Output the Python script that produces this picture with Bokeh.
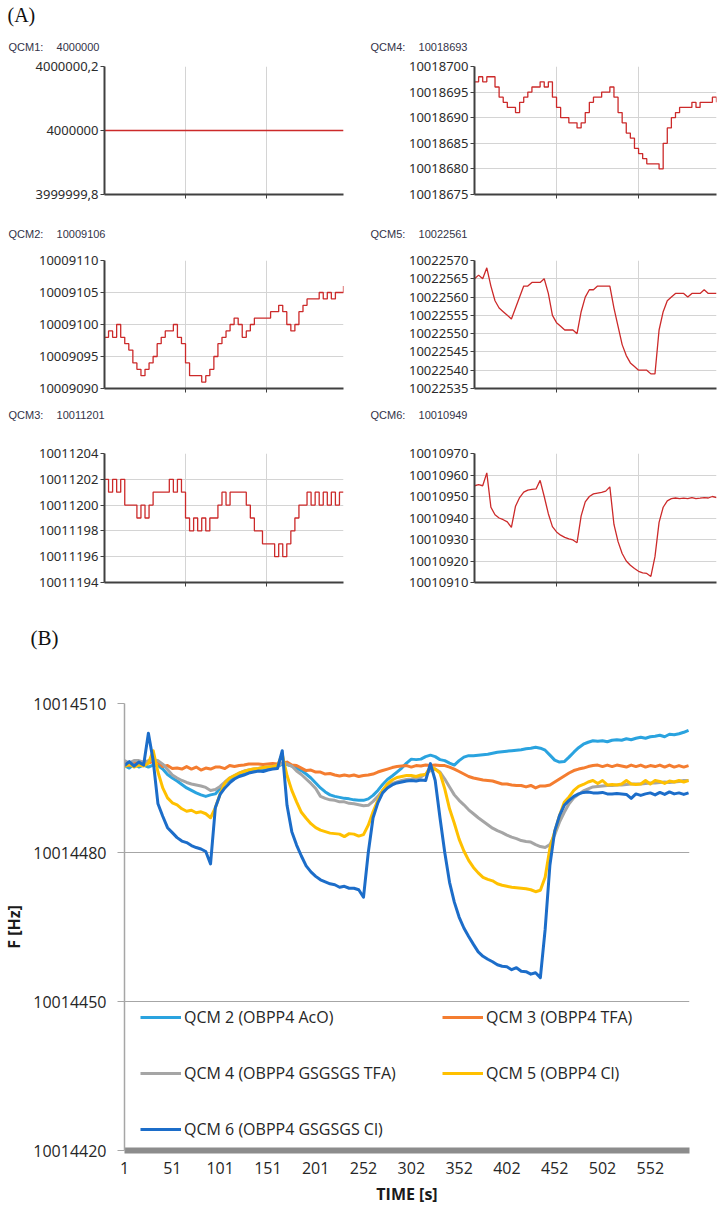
from bokeh.plotting import figure
from bokeh.models import Range1d, FixedTicker, BasicTickFormatter, Legend, LegendItem, Title
from bokeh.layouts import column, row
from bokeh.embed import file_html
from bokeh.resources import INLINE

# ---------------- Panel A data (time index 0..590, every 10) ----------------
MINI_T = list(range(0, 600, 10))

QCM1_T = [0, 590]
QCM1_VALS = [4000000, 4000000]

QCM2_BASE = 10009000
QCM2_VALS = [98, 99, 98, 100, 98, 97, 96, 94, 93, 92,
             93, 94, 95, 97, 98, 99, 99, 100, 98, 97,
             94, 92, 92, 92, 91, 92, 93, 95, 97, 98,
             99, 100, 101, 100, 98, 99, 100, 101, 101, 101,
             101, 102, 102, 103, 102, 100, 99, 100, 102, 103,
             104, 104, 104, 105, 104, 105, 104, 105, 105, 106]

QCM3_BASE = 10011000
QCM3_VALS = [202, 201, 202, 201, 202, 200, 200, 200, 199, 200,
             199, 200, 201, 201, 201, 201, 202, 201, 202, 201,
             199, 198, 199, 198, 199, 198, 199, 199, 200, 201,
             200, 201, 201, 201, 201, 200, 199, 198, 198, 197,
             197, 197, 196, 197, 196, 197, 198, 199, 200, 200,
             201, 200, 201, 200, 201, 200, 201, 200, 201, 201]

QCM4_BASE = 10018600
QCM4_VALS = [97, 98, 97, 98, 98, 96, 94, 93, 92, 92,
             91, 93, 94, 95, 96, 96, 97, 96, 97, 94,
             92, 90, 90, 89, 89, 88, 89, 91, 93, 94,
             94, 95, 95, 96, 94, 91, 89, 87, 86, 84,
             83, 82, 81, 81, 81, 80, 85, 88, 90, 91,
             92, 92, 92, 93, 92, 93, 93, 93, 94, 93]

QCM5_BASE = 10022500
QCM5_VALS = [65, 66, 65, 68, 63, 59, 57, 56, 55, 54,
             57, 60, 63, 63, 64, 64, 64, 65, 61, 55,
             53, 52, 51, 51, 51, 50, 56, 60, 62, 62,
             63, 63, 63, 63, 57, 52, 47, 44, 42, 41,
             40, 40, 40, 39, 39, 51, 56, 59, 60, 61,
             61, 61, 60, 61, 61, 61, 62, 61, 61, 61]

QCM6_BASE = 10010900
QCM6_VALS = [55, 55.5, 55, 61, 45, 41.5, 40, 39.2, 38.2, 35.6,
             45.5, 49.5, 52, 53, 53.3, 53.5, 57.5, 50, 42, 36,
             33.5, 32, 31, 30.3, 29.8, 28.5, 41, 47.5, 50, 51.2,
             51.6, 51.9, 52.5, 54.5, 37, 29, 23.5, 20, 18, 16.5,
             15.2, 14.5, 14.2, 12.8, 22, 38, 45, 48, 49, 49.3,
             49, 49.2, 49, 49.5, 49, 49.2, 49.5, 49.3, 50, 49.5]

# ---------------- Panel B data (time index 0..590, every 5) ----------------
B_T = list(range(0, 595, 5))
B_BASE = 10014480
B_NAMES = ["QCM 2 (OBPP4 AcO)", "QCM 3 (OBPP4 TFA)", "QCM 4 (OBPP4 GSGSGS TFA)",
           "QCM 5 (OBPP4 Cl)", "QCM 6 (OBPP4 GSGSGS Cl)"]
B_COLORS = ["#2AA3DF", "#F47D30", "#A5A5A5", "#FFC000", "#1C6DC9"]

B_QCM2 = [17.5, 17.0, 17.8, 17.2, 17.6, 17.2, 17.6, 17.5, 16.8, 15.7,
          15.0, 14.4, 13.7, 13.0, 12.5, 12.0, 11.6, 11.3, 11.6, 11.8,
          12.9, 14.0, 14.7, 15.1, 15.5, 15.9, 16.2, 16.4, 16.6, 16.8,
          17.0, 17.1, 17.3, 17.8, 17.7, 17.4, 17.0, 16.5, 15.8, 15.0,
          14.0, 13.0, 12.2, 11.6, 11.3, 11.1, 10.9, 10.8, 10.6, 10.5,
          10.5, 10.8, 11.5, 12.5, 13.7, 14.7, 15.4, 16.2, 17.0, 18.0,
          18.8, 18.7, 18.8, 19.3, 19.6, 19.3, 18.7, 18.5, 18.0, 17.6,
          18.5, 19.2, 19.5, 19.5, 19.6, 19.7, 19.8, 20.0, 20.2, 20.3,
          20.4, 20.5, 20.6, 20.7, 20.9, 21.0, 21.2, 21.0, 20.6, 19.6,
          18.6, 18.2, 18.3, 19.2, 20.2, 21.1, 21.8, 22.2, 22.5, 22.4,
          22.5, 22.3, 22.6, 22.7, 22.6, 22.9, 22.7, 23.0, 23.2, 23.0,
          23.3, 23.4, 23.6, 23.3, 23.8, 23.7, 23.9, 24.2, 24.6]

B_QCM3 = [18.0, 17.5, 18.3, 17.6, 18.2, 18.0, 18.3, 18.2, 17.3, 17.5,
          16.9, 17.0, 16.8, 17.3, 16.8, 17.2, 16.6, 17.0, 16.8, 17.2,
          17.2, 16.9, 17.5, 17.3, 17.5, 17.6, 17.8, 17.8, 17.8, 17.7,
          17.8, 17.9, 17.8, 18.0, 18.2, 17.6, 17.5, 17.0, 16.5, 16.6,
          16.2, 16.2, 15.8, 15.9, 15.6, 15.4, 15.6, 15.4, 15.6, 15.3,
          15.5, 15.6, 15.8, 16.2, 16.5, 16.8, 17.1, 17.3, 17.4, 17.5,
          17.2, 17.5, 17.4, 17.6, 17.5, 17.6, 17.5, 17.5, 17.2, 16.8,
          16.3, 15.8, 15.3, 15.0, 14.8, 14.6, 14.5, 14.4, 14.1, 13.8,
          13.8, 13.6, 13.5, 13.5, 13.2, 13.5, 13.0, 13.4, 13.4, 13.6,
          14.2, 14.8, 15.4, 16.0, 16.5, 16.8, 17.0, 17.3, 17.5, 17.6,
          17.3, 17.6, 17.3, 17.6, 17.4, 17.2, 17.6, 17.3, 17.6, 17.2,
          17.5, 17.3, 17.6, 17.2, 17.6, 17.2, 17.5, 17.2, 17.5]

B_QCM4 = [18.5, 18.0, 18.5, 18.5, 18.2, 18.5, 18.6, 18.5, 17.8, 16.7,
          15.6, 15.0, 14.5, 14.1, 13.8, 13.6, 13.4, 13.1, 12.5, 12.7,
          13.3, 14.2, 15.0, 15.5, 16.0, 16.4, 16.6, 16.8, 16.9, 17.1,
          17.2, 17.3, 17.5, 18.0, 17.8, 17.4, 16.4, 15.7, 14.8, 13.9,
          12.9, 11.3, 10.9, 10.6, 10.5, 10.2, 10.2, 9.9, 9.8, 9.6,
          9.4, 9.5, 10.3, 11.3, 12.5, 13.4, 13.9, 14.2, 14.5, 14.7,
          14.8, 15.0, 15.2, 15.8, 16.5, 16.8, 16.2, 14.8, 13.2, 11.6,
          10.5, 9.6, 8.6, 7.8, 7.0, 6.3, 5.6, 4.9, 4.4, 4.0,
          3.5, 3.1, 2.8, 2.4, 2.2, 2.1, 1.6, 1.2, 1.0, 1.6,
          3.6, 6.1, 8.1, 9.8, 11.0, 11.7, 12.4, 12.8, 13.2, 13.3,
          13.4, 13.5, 13.5, 13.6, 13.6, 13.7, 13.8, 13.8, 13.8, 13.9,
          14.0, 14.0, 14.1, 14.2, 14.1, 14.2, 14.3, 14.5, 14.5]

B_QCM5 = [17.3, 17.8, 17.2, 17.6, 17.4, 18.0, 20.5, 16.2, 13.0, 11.0,
          10.0, 9.6, 8.8, 8.3, 8.5, 8.0, 8.2, 7.8, 7.0, 9.0,
          11.8, 14.0, 15.0, 15.5, 16.0, 16.3, 16.6, 16.8, 16.9, 17.1,
          17.2, 17.3, 17.5, 19.8, 15.5, 12.5, 10.2, 8.1, 6.9, 5.8,
          5.0, 4.5, 4.2, 3.9, 3.8, 3.7, 3.2, 3.8, 3.7, 3.3,
          3.6, 5.5, 8.2, 10.5, 12.5, 13.8, 14.6, 15.1, 15.3, 15.5,
          15.5, 15.3, 15.6, 15.7, 17.3, 16.8, 16.0, 12.8, 8.8, 5.9,
          2.7, 0.3, -1.6, -3.0, -4.1, -5.0, -5.4, -5.7, -6.3, -6.6,
          -6.8, -7.0, -7.1, -7.2, -7.3, -7.5, -7.9, -7.6, -5.0, 0.9,
          4.2, 7.4, 10.1, 11.2, 12.5, 13.3, 13.7, 14.2, 14.5, 13.9,
          14.5, 13.6, 13.7, 13.6, 13.8, 14.5, 13.8, 13.7, 13.8, 14.5,
          13.8, 14.5, 14.3, 13.9, 14.4, 14.2, 14.5, 14.2, 14.5]

B_QCM6 = [17.5, 18.3, 17.4, 18.2, 17.6, 24.0, 18.5, 9.8, 7.3, 5.0,
          4.0, 3.0, 2.3, 2.0, 1.4, 1.0, 0.7, 0.2, -2.3, 9.0,
          11.7, 13.0, 14.0, 14.8, 15.3, 15.6, 16.0, 16.2, 16.4, 16.3,
          16.6, 16.8, 16.9, 20.5, 9.5, 4.2, 1.5, -0.7, -2.7, -3.9,
          -4.8, -5.5, -5.9, -6.3, -6.5, -7.0, -6.8, -7.2, -7.2, -7.5,
          -9.0, 0.0, 7.0, 10.0, 12.0, 13.0, 13.6, 14.0, 14.2, 14.4,
          14.5, 14.4, 14.6, 14.5, 17.9, 14.5, 7.0, 0.0, -6.0, -10.0,
          -13.0, -15.2, -16.9, -18.5, -20.0, -20.9, -21.5, -22.0, -22.6, -22.9,
          -23.0, -23.6, -23.2, -23.9, -24.0, -24.5, -24.2, -25.2, -15.5, -2.5,
          4.3, 7.4, 9.5, 10.5, 11.3, 11.8, 12.1, 12.2, 12.0, 12.0,
          12.1, 11.8, 11.8, 11.9, 11.8, 11.7, 10.9, 11.8, 11.5, 11.8,
          12.0, 11.6, 12.1, 11.7, 12.2, 11.8, 12.0, 11.7, 12.0]

B_SERIES = [B_QCM2, B_QCM3, B_QCM4, B_QCM5, B_QCM6]
B_Y_TICKS = [10014420, 10014450, 10014480, 10014510]
B_X_TICK_POS = [0, 50, 100, 150, 200, 250, 300, 350, 400, 450, 500, 550]
B_X_TICK_LABELS = ["1", "51", "101", "151", "201", "252", "302", "352", "402", "452", "502", "552"]

RED = "#CC2A2A"
AX_DARK = "#404040"
TICK_FONT = "Noto Sans"
GAP = "\u2002\u2002\u2009"


def qcm_title(name, val, offset, standoff):
    return Title(text=name + GAP + val, align="left", offset=offset, vertical_align="middle",
                 standoff=standoff, text_font="Liberation Sans", text_font_size="11px",
                 text_font_style="normal", text_color="#333348")


def mini(t, y, ticks, labels, use_step, left_col, top_b, frame_h, bottom_b):
    if left_col:
        W, bl, br = 361, 104, 18
    else:
        W, bl, br = 362, 113, 7
    H = top_b + frame_h + bottom_b
    p = figure(width=W, height=H, min_border_left=bl, min_border_right=br,
               min_border_top=top_b, min_border_bottom=bottom_b,
               x_range=Range1d(0, 590), y_range=Range1d(ticks[0], ticks[-1]),
               output_backend="svg", toolbar_location=None, tools="")
    p.outline_line_color = None
    if use_step:
        p.step(t, y, mode="after", line_color=RED, line_width=1.3)
    else:
        p.line(t, y, line_color=RED, line_width=1.3)
    p.yaxis.ticker = FixedTicker(ticks=ticks)
    p.yaxis.formatter = BasicTickFormatter(use_scientific=False)
    if labels is not None:
        p.yaxis.major_label_overrides = dict(zip(ticks, labels))
    p.xaxis.ticker = FixedTicker(ticks=[200, 400])
    p.xaxis.major_label_text_font_size = "1px"
    p.xaxis.major_label_text_color = None
    p.xaxis.major_label_standoff = 0
    for ax in (p.xaxis[0], p.yaxis[0]):
        ax.axis_line_color = AX_DARK
        ax.axis_line_width = 2
        ax.major_tick_line_color = AX_DARK
        ax.major_tick_out = 4
        ax.major_tick_in = 0
        ax.minor_tick_out = 0
        ax.minor_tick_in = 0
        ax.minor_tick_line_color = None
    p.yaxis.major_label_standoff = 2
    p.yaxis.major_label_text_font = TICK_FONT
    p.yaxis.major_label_text_font_size = "13px"
    p.yaxis.major_label_text_color = "#2b2b2b"
    p.xgrid.grid_line_color = "#D4D4D4"
    p.ygrid.grid_line_color = "#D4D4D4"
    p.ygrid.ticker = FixedTicker(ticks=ticks)
    return p, bl


q2 = [QCM2_BASE + v for v in QCM2_VALS]
q3 = [QCM3_BASE + v for v in QCM3_VALS]
q4 = [QCM4_BASE + v for v in QCM4_VALS]
q5 = [QCM5_BASE + v for v in QCM5_VALS]
q6 = [QCM6_BASE + v for v in QCM6_VALS]

LEFT_X, RIGHT_X = 8, 370 - 361

# Row 1: page y 0..204, frame 66..194
f1, bl1 = mini(QCM1_T, QCM1_VALS, [3999999.8, 4000000.0, 4000000.2],
               ["3999999,8", "4000000", "4000000,2"], False, True, 66, 128, 10)
f4, bl4 = mini(MINI_T, q4, [10018675, 10018680, 10018685, 10018690, 10018695, 10018700],
               None, True, False, 66, 128, 10)
f1.add_layout(qcm_title("QCM1:", "4000000", LEFT_X - bl1, 25.5), "above")
f1.add_layout(Title(text="(A)", align="left", offset=7 - bl1, vertical_align="middle", standoff=0,
                    text_font="Liberation Serif", text_font_size="20px", text_font_style="normal",
                    text_color="#111111"), "above")
f4.add_layout(qcm_title("QCM4:", "10018693", RIGHT_X - bl4, 25.5), "above")

# Row 2: page y 204..441, frame 260..388
f2, bl2 = mini(MINI_T, q2, [10009090, 10009095, 10009100, 10009105, 10009110],
               None, True, True, 56, 128, 53)
f5, bl5 = mini(MINI_T, q5,
               [10022535, 10022540, 10022545, 10022550, 10022555, 10022560, 10022565, 10022570],
               None, False, False, 56, 128, 53)
f2.add_layout(qcm_title("QCM2:", "10009106", LEFT_X - bl2, 40), "above")
f5.add_layout(qcm_title("QCM5:", "10022561", RIGHT_X - bl5, 40), "above")
# titles of the third row sit below the second-row charts
f2.add_layout(qcm_title("QCM3:", "10011201", LEFT_X - bl2, 30.6), "below")
f5.add_layout(qcm_title("QCM6:", "10010949", RIGHT_X - bl5, 30.6), "below")

# Row 3: page y 441..692, frame 453..582
f3, bl3 = mini(MINI_T, q3, [10011194, 10011196, 10011198, 10011200, 10011202, 10011204],
               None, True, True, 12, 129, 110)
f6, bl6 = mini(MINI_T, q6,
               [10010910, 10010920, 10010930, 10010940, 10010950, 10010960, 10010970],
               None, False, False, 12, 129, 110)
f3.add_layout(Title(text="(B)", align="left", offset=30 - bl3, vertical_align="middle", standoff=77,
                    text_font="Liberation Serif", text_font_size="21px", text_font_style="normal",
                    text_color="#111111"), "below")

# ---------------- Panel B: page y 692..1215, frame 703..1150 ----------------
BL, BR, BT, BB = 123, 34, 11, 65
pB = figure(width=723, height=523, min_border_left=BL, min_border_right=BR,
            min_border_top=BT, min_border_bottom=BB,
            x_range=Range1d(0, 591), y_range=Range1d(10014420, 10014510),
            output_backend="svg", toolbar_location=None, tools="")
pB.outline_line_color = None
items = []
for name, color, vals in zip(B_NAMES, B_COLORS, B_SERIES):
    r = pB.line(B_T, [B_BASE + v for v in vals], line_color=color, line_width=3, line_join="round")
    items.append(LegendItem(label=name, renderers=[r]))

pB.yaxis.ticker = FixedTicker(ticks=B_Y_TICKS)
pB.yaxis.formatter = BasicTickFormatter(use_scientific=False)
pB.ygrid.ticker = FixedTicker(ticks=B_Y_TICKS)
pB.ygrid.grid_line_color = "#A6A6A6"
pB.xgrid.visible = False
pB.xaxis.ticker = FixedTicker(ticks=B_X_TICK_POS)
pB.xaxis.major_label_overrides = dict(zip(B_X_TICK_POS, B_X_TICK_LABELS))

for ax in (pB.xaxis[0], pB.yaxis[0]):
    ax.major_label_text_font = "Open Sans"
    ax.major_label_text_font_size = "16px"
    ax.major_label_text_color = "#262626"
    ax.axis_label_text_font = "Open Sans"
    ax.axis_label_text_font_size = "16px"
    ax.axis_label_text_font_style = "bold"
    ax.axis_label_text_color = "#1a1a1a"
    ax.minor_tick_line_color = None
    ax.minor_tick_out = 0

pB.xaxis.axis_line_color = "#8C8C8C"
pB.xaxis.axis_line_width = 6
pB.xaxis.major_tick_out = 0
pB.xaxis.major_tick_in = 0
pB.xaxis.major_label_standoff = 11
pB.xaxis.axis_label = "TIME [s]"
pB.xaxis.axis_label_standoff = 6

pB.yaxis.axis_line_color = "#A6A6A6"
pB.yaxis.axis_line_width = 1.5
pB.yaxis.major_tick_line_color = "#A6A6A6"
pB.yaxis.major_tick_out = 7
pB.yaxis.major_tick_in = 0
pB.yaxis.major_label_standoff = 11
pB.yaxis.axis_label = "F [Hz]"
pB.yaxis.axis_label_standoff = 5

legend = Legend(items=items, location=(16, 10), orientation="horizontal", ncols=2,
                spacing=34, padding=0, margin=0, glyph_width=41, glyph_height=22,
                label_height=22, label_width=224, label_standoff=3,
                label_text_font="Open Sans", label_text_font_size="16px",
                label_text_color="#262626", background_fill_alpha=0, border_line_alpha=0)
pB.add_layout(legend)

layout = column(row(f1, f4), row(f2, f5), row(f3, f6), pB)
open("out.html", "w").write(file_html(layout, INLINE))
